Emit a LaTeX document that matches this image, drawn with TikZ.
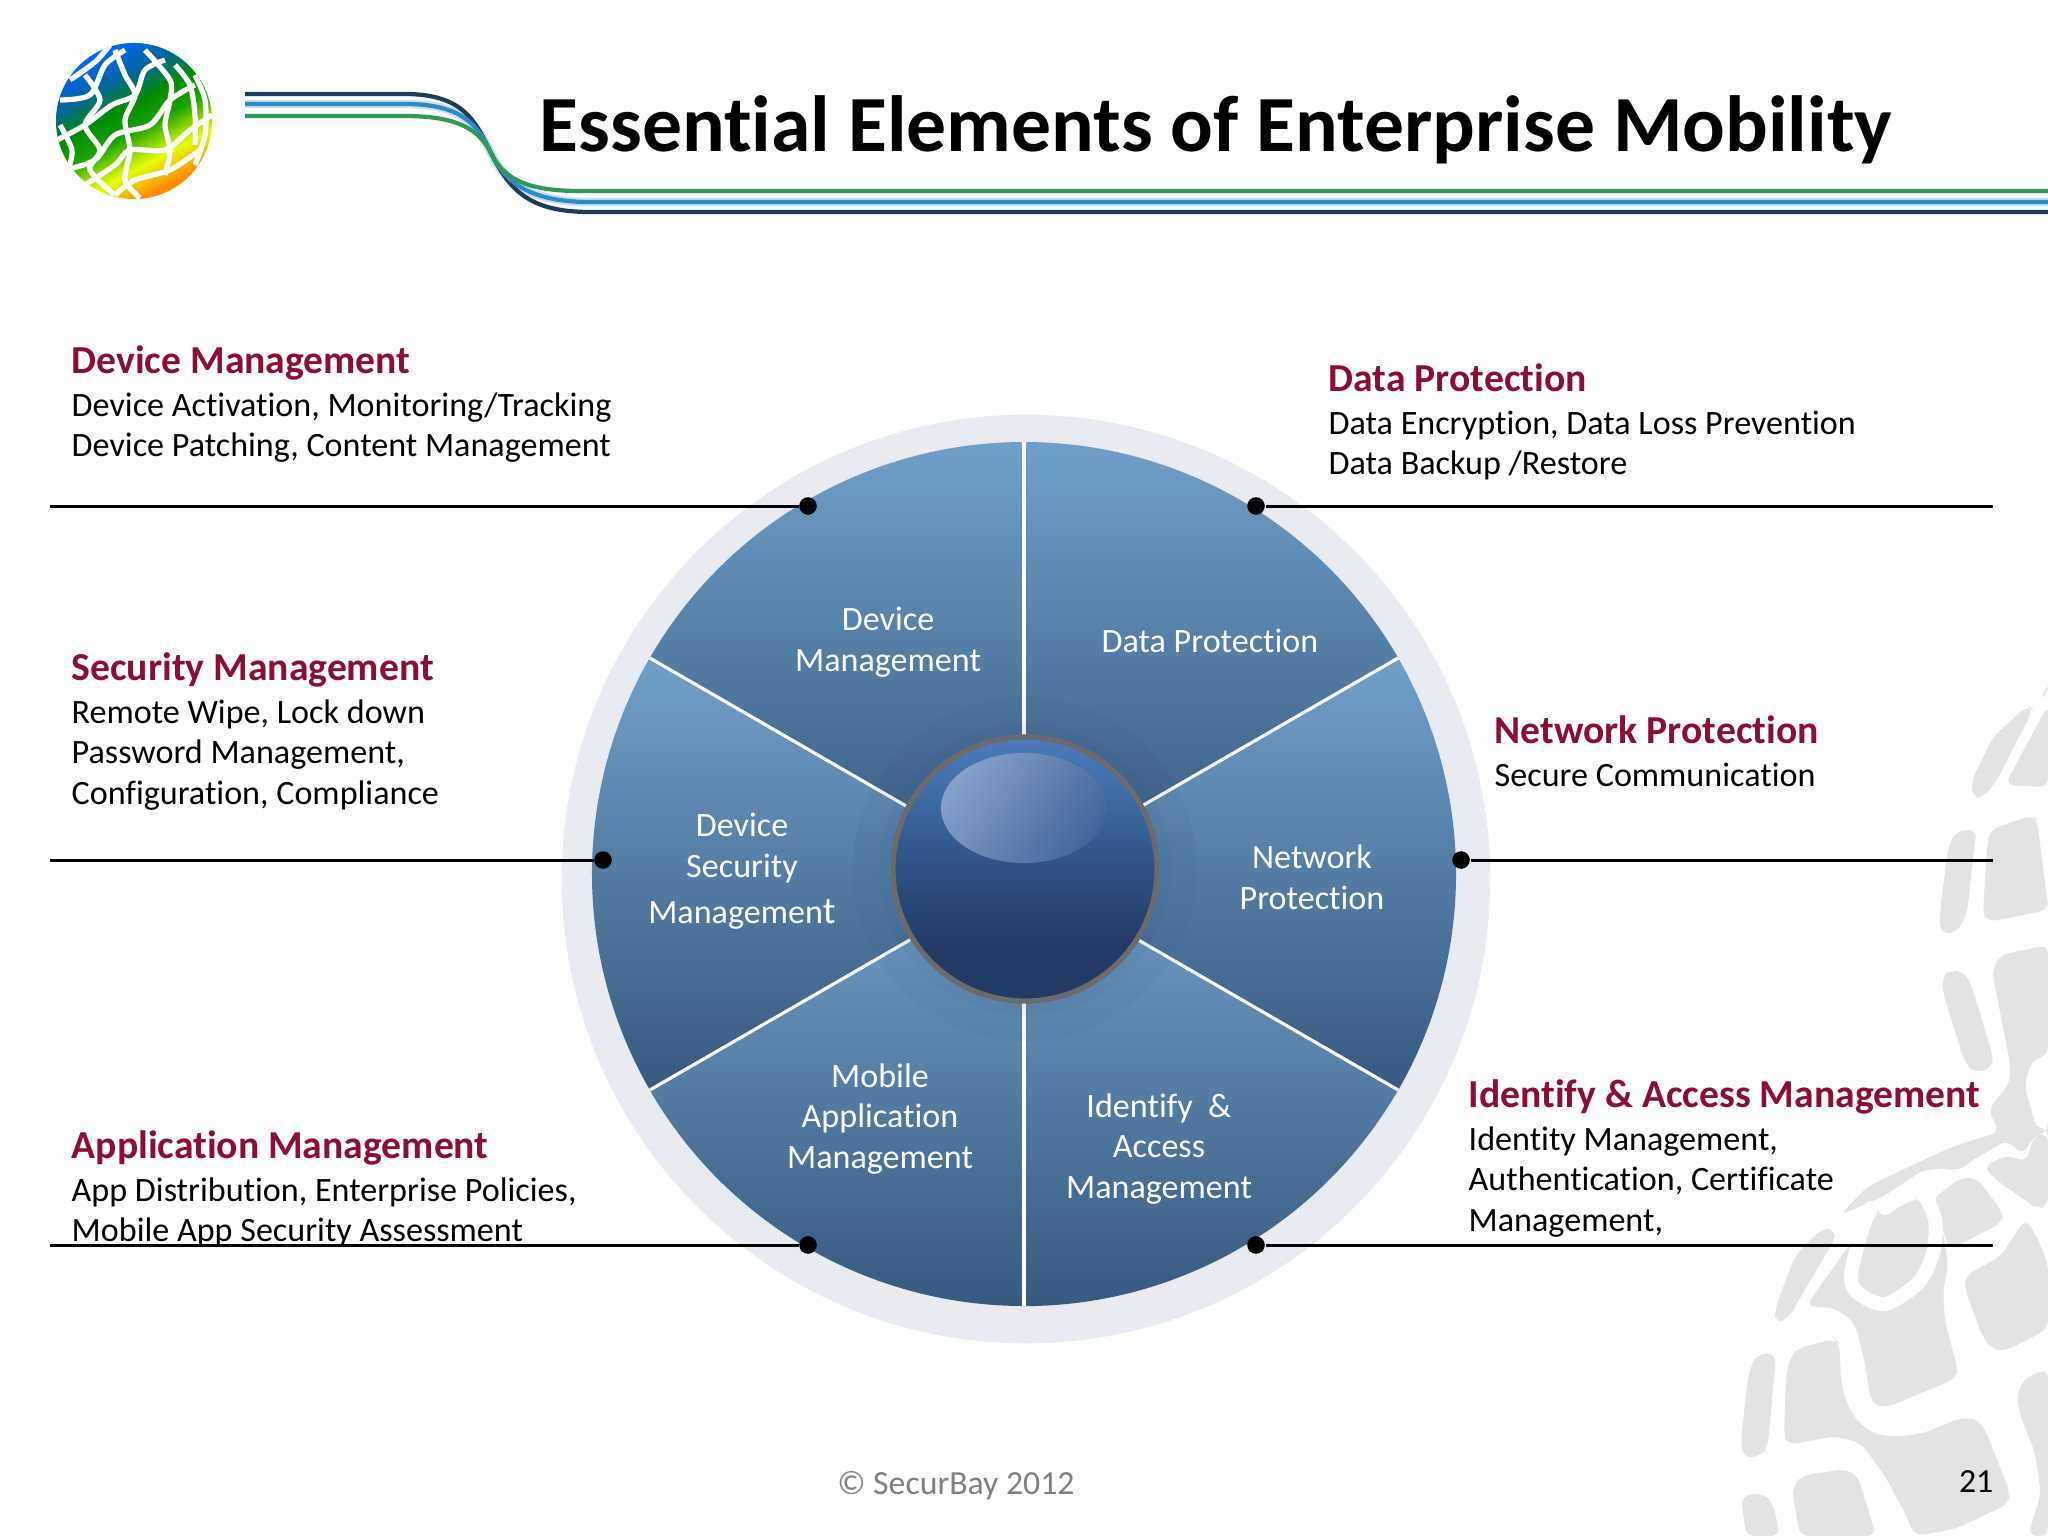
\documentclass[tikz,border=0pt]{standalone}
\usepackage{fontspec}
\setmainfont[Ligatures=NoCommon]{Carlito}
\definecolor{headred}{HTML}{8A0F32}
\definecolor{ringgrey}{HTML}{E8EBF1}
\definecolor{markgrey}{HTML}{E3E3E6}
\definecolor{sectop}{HTML}{6F9FC8}
\definecolor{secmid}{HTML}{6793BB}
\definecolor{secbot}{HTML}{365A80}
\definecolor{balltop}{HTML}{4B7EBC}
\definecolor{ballmid}{HTML}{30568A}
\definecolor{ballbot}{HTML}{223B64}
\definecolor{glowleft}{HTML}{84A1C9}
\definecolor{glowright}{HTML}{40679C}
\definecolor{swdark}{HTML}{1D3C5C}
\definecolor{swblue}{HTML}{2C8AC4}
\definecolor{swgreen}{HTML}{2F9A58}
\pgfdeclareverticalshading{logoshade}{100bp}{color(0bp)=(orange); color(27bp)=(orange!90!yellow); color(36bp)=(yellow!90!green); color(47bp)=(green!60!black!90!yellow); color(55bp)=(green!55!black); color(64bp)=(teal!80!blue); color(75bp)=(blue!60!cyan); color(100bp)=(blue!60!cyan)}
\pgfdeclareverticalshading{ballshade}{100bp}{color(0bp)=(ballbot); color(36bp)=(ballbot); color(52bp)=(ballmid); color(75bp)=(balltop); color(100bp)=(balltop)}
\tikzset{
  title/.style={font=\fontsize{22.64}{27}\selectfont\bfseries,anchor=base west,inner sep=0pt},
  info/.style={font=\fontsize{9.7}{11.6}\selectfont,align=left,anchor=north west,inner sep=0pt},
  sector/.style={top color=sectop,middle color=secmid,bottom color=secbot},
  spoke/.style={draw=white,line width=0.9pt},
  seclabel/.style={font=\fontsize{9.7}{11.6}\selectfont,text=white,align=center,inner sep=0pt},
  dot/.style={circle,fill=black,inner sep=0pt,minimum size=5pt},
  leader/.style={draw=black,line width=0.85pt},
  blob/.style={fill=markgrey,rounded corners=2.5pt},
  swoosh/.style={line width=1.2pt},
}
\newcommand{\headtxt}[1]{{\fontsize{11.27}{11.6}\selectfont\bfseries\color{headred}#1}}
\begin{document}
\begin{tikzpicture}[x=0.01cm,y=-0.01cm]
  \useasboundingbox (0,0) rectangle (2048,1536);
  \fill[white] (0,0) rectangle (2048,1536);
  % watermark globe
  \fill[blob] (2028,705) -- (1993,737) -- (1972,780) -- (1972,797) -- (1983,798) -- (1997,780) -- (2033,710) -- cycle;
  \fill[blob] (2048,705) -- (2005,785) -- (2048,787) -- cycle;
  \fill[blob] (2040,700) -- (2048,683) -- (2048,692) -- cycle;
  \fill[blob] (1977,830) -- (1957,830) -- (1948,847) -- (1940,913) -- (1940,933) -- (1957,933) -- (1967,913) -- (1975,840) -- cycle;
  \fill[blob] (1990,830) -- (2033,815) -- (2037,820) -- (2048,907) -- (2048,910) -- (1987,922) -- (1983,913) -- (1987,847) -- cycle;
  \fill[blob] (1942,977) -- (1950,970) -- (1965,972) -- (1973,990) -- (1993,1057) -- (1992,1068) -- (1975,1073) -- (1965,1063) -- (1943,993) -- cycle;
  \fill[blob] (1992,970) -- (2000,955) -- (2048,945) -- (2048,1055) -- (2032,1060) -- (2024,1085) -- (2030,1105) -- (2037,1130) -- (2048,1128) -- (2048,1132) -- (2033,1137) -- (2023,1155) -- (2007,1140) -- (1968,1163) -- (1958,1172) -- (1950,1168) -- (1923,1170) -- (1884,1196) -- (1840,1215) -- (1867,1187) -- (1923,1160) -- (1957,1145) -- (2000,1132) -- (1988,1110) -- (2010,1083) -- (2010,1063) -- cycle;
  \fill[blob] (1983,1167) -- (2007,1155) -- (2027,1162) -- (2033,1137) -- (2048,1133) -- (2048,1205) -- (2037,1210) -- (2030,1203) -- (2000,1183) -- cycle;
  \fill[blob] (1932,1200) -- (1960,1178) -- (1977,1178) -- (2003,1213) -- (2003,1222) -- (1963,1243) -- (1948,1250) -- (1945,1235) -- cycle;
  \fill[blob] (2025,1219) -- (2035,1233) -- (2048,1263) -- (2048,1329) -- (2005,1351) -- (1991,1349) -- (1981,1333) -- (1965,1289) -- (1965,1276) -- (2001,1256) -- cycle;
  \fill[blob] (1835,1229) -- (1821,1229) -- (1795,1256) -- (1775,1309) -- (1775,1323) -- (1788,1319) -- (1801,1296) -- (1835,1239) -- cycle;
  \fill[blob] (1806,1306) -- (1835,1308) -- (1855,1323) -- (1865,1363) -- (1871,1403) -- (1885,1408) -- (1955,1379) -- (1958,1369) -- (1945,1323) -- (1943,1290) -- (1948,1268) -- (1945,1240) -- (1932,1200) -- (1920,1185) -- (1880,1205) -- (1863,1226) -- cycle;
  \draw[white,line width=4pt,line cap=round] plot[smooth] coordinates {(1885,1208) (1901,1198) (1921,1193) (1935,1219) (1933,1253) (1918,1283) (1885,1304) (1858,1293) (1851,1276) (1861,1233) (1871,1208)};
  \fill[blob] (1790,1358) -- (1798,1348) -- (1835,1339) -- (1839,1343) -- (1842,1389) -- (1851,1413) -- (1868,1431) -- (1888,1437) -- (1921,1434) -- (1961,1418) -- (1978,1419) -- (1988,1436) -- (2010,1493) -- (2008,1504) -- (1955,1529) -- (1915,1536) -- (1905,1513) -- (1885,1476) -- (1861,1443) -- (1835,1436) -- (1788,1445) -- (1784,1436) -- (1786,1376) -- cycle;
  \fill[blob] (1756,1354) -- (1776,1354) -- (1768,1446) -- (1761,1456) -- (1743,1458) -- (1741,1439) -- (1748,1376) -- cycle;
  \fill[blob] (1793,1486) -- (1801,1476) -- (1845,1469) -- (1858,1476) -- (1876,1536) -- (1800,1536) -- (1793,1496) -- cycle;
  \fill[blob] (1741,1496) -- (1763,1493) -- (1773,1503) -- (1780,1536) -- (1746,1536) -- cycle;
  \fill[blob] (2018,1389) -- (2028,1376) -- (2048,1369) -- (2048,1536) -- (2028,1536) -- (2041,1493) -- (2035,1453) -- (2018,1409) -- cycle;
  % logo
  \begin{scope}
    \clip (134,121) circle[radius=0.78cm];
    \shade[shading=logoshade,shading angle=28] (134,121) circle[radius=0.78cm];
    \begin{scope}[white,line width=1.5pt]
      \draw plot[smooth] coordinates {(70,80) (95,62) (110,45)};
      \draw plot[smooth] coordinates {(60,100) (90,95) (105,65) (125,50)};
      \draw plot[smooth] coordinates {(57,140) (85,125) (112,105) (135,95) (145,70) (165,60)};
      \draw plot[smooth] coordinates {(65,170) (95,160) (115,135) (150,125) (170,100) (195,85)};
      \draw plot[smooth] coordinates {(85,185) (115,165) (130,150) (165,150) (190,130) (212,115)};
      \draw plot[smooth] coordinates {(115,195) (135,180) (170,170) (200,150)};
      \draw plot[smooth] coordinates {(60,125) (72,150) (68,170)};
      \draw plot[smooth] coordinates {(85,75) (100,100) (85,125) (100,150) (90,170) (115,195)};
      \draw plot[smooth] coordinates {(115,50) (125,75) (135,95) (125,120) (130,150) (125,180) (140,198)};
      \draw plot[smooth] coordinates {(145,50) (170,80) (170,100) (165,125) (170,150) (165,175)};
      \draw plot[smooth] coordinates {(175,65) (190,85) (195,115) (195,145)};
      \draw plot[smooth] coordinates {(195,75) (205,100) (205,135) (195,165)};
    \end{scope}
  \end{scope}
  % swoosh
  \draw[swoosh,swblue!25,line width=2.4pt] (245,104) -- (405,104) .. controls (465,104) and (478,127) .. (491,153) .. controls (504,179) and (525,202) .. (590,202) -- (2048,202);
  \draw[swoosh,swdark] (245,94) -- (405,94) .. controls (465,94) and (476,123) .. (491,153) .. controls (510,191) and (530,212) .. (590,212) -- (2048,212);
  \draw[swoosh,swblue] (245,104) -- (405,104) .. controls (465,104) and (478,127) .. (491,153) .. controls (504,179) and (525,202) .. (590,202) -- (2048,202);
  \draw[swoosh,swgreen] (245,116) -- (405,116) .. controls (460,116) and (480,131) .. (491,153) .. controls (502,175) and (520,191) .. (580,191) -- (2048,191);
  \node[title] (title) at (539,151) {Essential Elements of Enterprise Mobility};
  % wheel
  \fill[ringgrey] (1026,879) circle[radius=4.64cm];
  \coordinate (hub) at (1024,874);
  \shade[sector] (hub) -- +(-90:432) arc[start angle=90,end angle=150,radius=4.32cm] -- cycle;
  \shade[sector] (hub) -- +(-90:432) arc[start angle=90,end angle=30,radius=4.32cm] -- cycle;
  \shade[sector] (hub) -- +(-30:432) arc[start angle=30,end angle=-30,radius=4.32cm] -- cycle;
  \shade[sector] (hub) -- +(30:432) arc[start angle=-30,end angle=-90,radius=4.32cm] -- cycle;
  \shade[sector] (hub) -- +(90:432) arc[start angle=270,end angle=210,radius=4.32cm] -- cycle;
  \shade[sector] (hub) -- +(150:432) arc[start angle=210,end angle=150,radius=4.32cm] -- cycle;
  \begin{scope}[spoke]
    \draw (hub) -- +(-90:432);
    \draw (hub) -- +(-30:432);
    \draw (hub) -- +(30:432);
    \draw (hub) -- +(90:432);
    \draw (hub) -- +(150:432);
    \draw (hub) -- +(210:432);
  \end{scope}
  \fill[ballbot,opacity=0.045] (1025,869) circle[radius=1.72cm];
  \fill[ballbot,opacity=0.045] (1025,869) circle[radius=1.46cm];
  \shade[shading=ballshade] (1025,869) circle[radius=1.32cm];
  \draw[draw=black!58,line width=1.5pt] (1025,869) circle[radius=1.32cm];
  \shade[left color=glowleft,right color=glowright,shading angle=55] (1024,808) ellipse[x radius=0.83cm,y radius=0.55cm];
  % wheel labels
  \node[seclabel] (devlabel) at (888,642) {Device\\Management};
  \node[seclabel] (datalabel) at (1210,641) {Data Protection};
  \node[seclabel] (seclabel) at (742,871) {Device\\Security\\[1.4pt]Managemen{\fontsize{10.8}{11.6}\selectfont t}};
  \node[seclabel] (netlabel) at (1312,877) {Network\\Protection};
  \node[seclabel] (applabel) at (880,1119) {Mobile\\Application\\Management};
  \node[seclabel] (idlabel) at (1159,1149) {Identify\ \ \&\\Access\\Management};
  % side texts
  \node[info] (devinfo) at (71,345) {\headtxt{Device Management}\\[0.5pt]Device Activation, Monitoring/Tracking\\Device Patching, Content Management};
  \node[info] (datainfo) at (1328,363) {\headtxt{Data Protection}\\[0.5pt]Data Encryption, Data Loss Prevention\\Data Backup /Restore};
  \node[info] (secinfo) at (71,652) {\headtxt{Security Management}\\[0.5pt]Remote Wipe, Lock down\\Password Management,\\Configuration, Compliance};
  \node[info] (netinfo) at (1494,715) {\headtxt{Network Protection}\\[0.5pt]Secure Communication};
  \node[info] (idinfo) at (1468,1079) {\headtxt{Identify \& Access Management}\\[0.5pt]Identity Management,\\Authentication, Certificate\\Management,};
  \node[info] (appinfo) at (71,1130) {\headtxt{Application Management}\\[0.5pt]App Distribution, Enterprise Policies,\\Mobile App Security Assessment};
  % leaders
  \node[dot] (d1) at (808,506) {};
  \node[dot] (d2) at (1256,506) {};
  \node[dot] (d3) at (603,860) {};
  \node[dot] (d4) at (1461,860) {};
  \node[dot] (d5) at (808,1245) {};
  \node[dot] (d6) at (1256,1245) {};
  \coordinate (e1) at (50,506);
  \coordinate (e2) at (1993,506);
  \coordinate (e3) at (50,860);
  \coordinate (e4) at (1993,860);
  \coordinate (e5) at (50,1245);
  \coordinate (e6) at (1993,1245);
  \begin{scope}[leader]
    \draw (e1) -- (d1);
    \draw (d2) -- (e2);
    \draw (e3) -- (d3);
    \draw (d4) -- (e4);
    \draw (e5) -- (d5);
    \draw (d6) -- (e6);
  \end{scope}
  \node[font=\fontsize{9.6}{11}\selectfont,text=black!50,inner sep=0pt] (foot) at (956,1486) {© SecurBay 2012};
  \node[font=\fontsize{9.6}{11}\selectfont,anchor=east,inner sep=0pt] (pagenum) at (1994,1482) {21};
\end{tikzpicture}
\end{document}
